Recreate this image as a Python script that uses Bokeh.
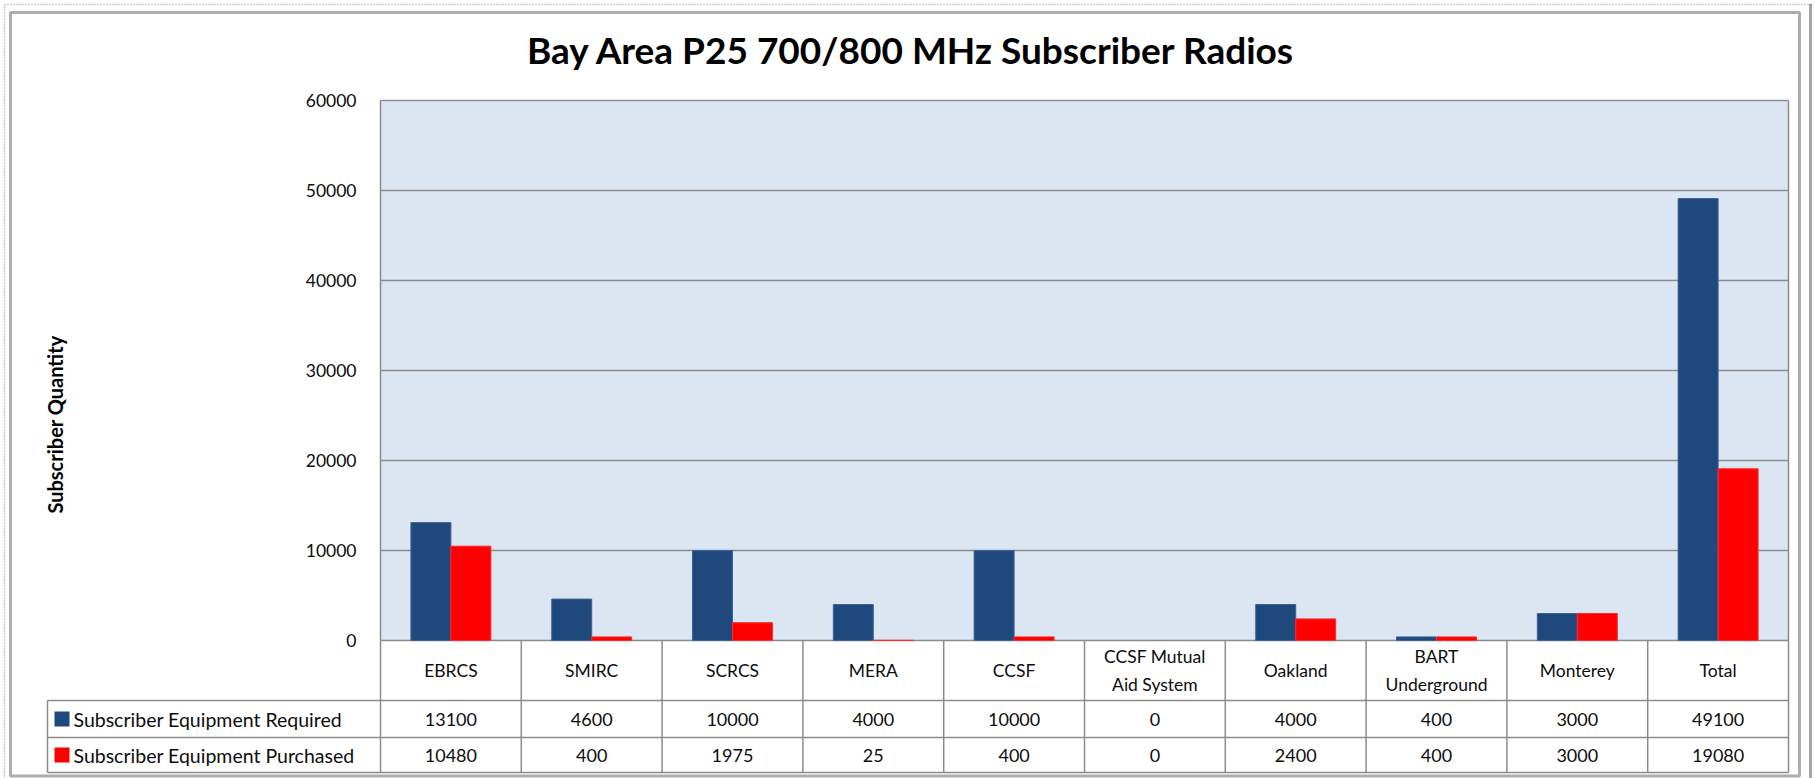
import numpy as np
from bokeh.plotting import figure
from bokeh.models import Range1d, ColumnDataSource
from bokeh.transform import dodge
from bokeh.embed import file_html
from bokeh.resources import INLINE
from bokeh.core.properties import value

# ---------------- data ----------------
categories = ["EBRCS", "SMIRC", "SCRCS", "MERA", "CCSF", "CCSF Mutual\nAid System",
              "Oakland", "BART\nUnderground", "Monterey", "Total"]
required = [13100, 4600, 10000, 4000, 10000, 0, 4000, 400, 3000, 49100]
purchased = [10480, 400, 1975, 25, 400, 0, 2400, 400, 3000, 19080]
series_names = ["Subscriber Equipment Required", "Subscriber Equipment Purchased"]
series_colors = ["#1F497D", "#FF0000"]
series_edges = ["#3D6296", "#FF2A2A"]
y_ticks = [0, 10000, 20000, 30000, 40000, 50000, 60000]
y_tick_labels = ["0", "10000", "20000", "30000", "40000", "50000", "60000"]
title_text = "Bay Area P25 700/800 MHz Subscriber Radios"
y_title = "Subscriber Quantity"

# ---------------- layout constants (pixels) ----------------
FONT = "Lato"
W, H = 1815, 778
PLOT_L, PLOT_R, PLOT_T, PLOT_B = 380, 1788, 100, 640
TABLE_L = 47
HDR_B, ROW1_B, ROW2_B = 700, 737, 772
N = len(categories)
CAT_W = (PLOT_R - PLOT_L) / N
UPP = y_ticks[-1] / (PLOT_B - PLOT_T)
BAR_W = 0.284
GRID = "#8c8c8c"
TXT = "#0d0d0d"


def fx(px):
    return (px - PLOT_L) / CAT_W


def fy(py):
    return (PLOT_B - py) * UPP


p = figure(width=W, height=H, x_range=Range1d(fx(0), fx(W)), y_range=Range1d(fy(H), fy(0)),
           output_backend="svg", toolbar_location=None,
           x_axis_location=None, y_axis_location=None, min_border=0)
p.grid.visible = False
p.outline_line_color = None
p.background_fill_color = "white"
p.border_fill_color = "white"

# ---- chart frame decoration ----
p.line(x=[fx(4), fx(4), fx(1811)], y=[fy(H), fy(4), fy(4)],
       line_color="#9a9a9a", line_width=1.5, line_dash="1 2")
p.line(x=[fx(1810), fx(1810)], y=[fy(4), fy(H)], line_color="#505050", line_width=3,
       line_dash="1 1")
p.quad(left=[fx(10)], right=[fx(1799)], top=[fy(12)], bottom=[fy(775.5)],
       fill_color=None, line_color="#adadad", line_width=3)

# ---- plot area ----
ymax = y_ticks[-1]
p.quad(left=[0], right=[N], bottom=[0], top=[ymax], fill_color="#DCE6F2", line_color=None)
p.segment(x0=[0] * len(y_ticks), x1=[N] * len(y_ticks), y0=y_ticks, y1=y_ticks,
          line_color=GRID, line_width=1.5)
p.segment(x0=[0, N], x1=[0, N], y0=[0, 0], y1=[ymax, ymax], line_color=GRID, line_width=1.5)

idx = np.arange(N)
src = ColumnDataSource(dict(
    x=idx + 0.5, required=required, purchased=purchased,
    req_edge=[1.0 if v > 0 else 0.0 for v in required],
    pur_edge=[1.0 if v > 0 else 0.0 for v in purchased],
))
p.vbar(x=dodge("x", -BAR_W / 2), top="required", width=BAR_W, source=src,
       fill_color=series_colors[0], line_color=series_edges[0], line_width=1,
       line_alpha="req_edge")
p.vbar(x=dodge("x", BAR_W / 2), top="purchased", width=BAR_W, source=src,
       fill_color=series_colors[1], line_color=series_edges[1], line_width=1,
       line_alpha="pur_edge")

# ---- y tick labels ----
p.text(x=[fx(356)] * len(y_ticks), y=y_ticks, text=y_tick_labels, text_align="right",
       text_baseline="middle", text_font=value(FONT), text_font_size="17.5px",
       text_color=TXT)

# ---- titles ----
p.text(x=[fx(911)], y=[fy(49)], text=[title_text], text_align="center", text_baseline="middle",
       text_font=value(FONT), text_font_style="bold", text_font_size="37px",
       text_color="#000000")
p.text(x=[fx(54)], y=[fy(424)], text=[y_title], angle=np.pi / 2, text_align="center",
       text_baseline="middle", text_font=value(FONT), text_font_style="bold",
       text_font_size="20px", text_color="#000000")

# ---- data table ----
xl = fx(TABLE_L)
p.segment(x0=[xl, xl, xl], x1=[N] * 3, y0=[fy(HDR_B), fy(ROW1_B), fy(ROW2_B)],
          y1=[fy(HDR_B), fy(ROW1_B), fy(ROW2_B)], line_color=GRID, line_width=1.5)
vx = list(range(N + 1))
p.segment(x0=vx, x1=vx, y0=[0] * len(vx), y1=[fy(ROW2_B)] * len(vx),
          line_color=GRID, line_width=1.5)
p.segment(x0=[xl], x1=[xl], y0=[fy(HDR_B)], y1=[fy(ROW2_B)], line_color=GRID, line_width=1.5)

cx = idx + 0.5
p.text(x=cx, y=[fy((PLOT_B + HDR_B) / 2)] * N, text=categories, text_align="center",
       text_baseline="middle", text_font=value(FONT), text_font_size="17.5px",
       text_color=TXT, text_line_height=1.3)
yr1 = fy((HDR_B + ROW1_B) / 2)
yr2 = fy((ROW1_B + ROW2_B) / 2)
p.text(x=cx, y=[yr1] * N, text=[str(v) for v in required], text_align="center",
       text_baseline="middle", text_font=value(FONT), text_font_size="18px", text_color=TXT)
p.text(x=cx, y=[yr2] * N, text=[str(v) for v in purchased], text_align="center",
       text_baseline="middle", text_font=value(FONT), text_font_size="18px", text_color=TXT)

p.scatter(x=[fx(61.5)] * 2, y=[yr1, yr2], marker="square", size=15,
          fill_color=series_colors, line_color=None)
p.text(x=[fx(73)] * 2, y=[yr1, yr2], text=series_names, text_align="left",
       text_baseline="middle", text_font=value(FONT), text_font_size="19.5px",
       text_color=TXT)

open("out.html", "w").write(file_html(p, INLINE))
